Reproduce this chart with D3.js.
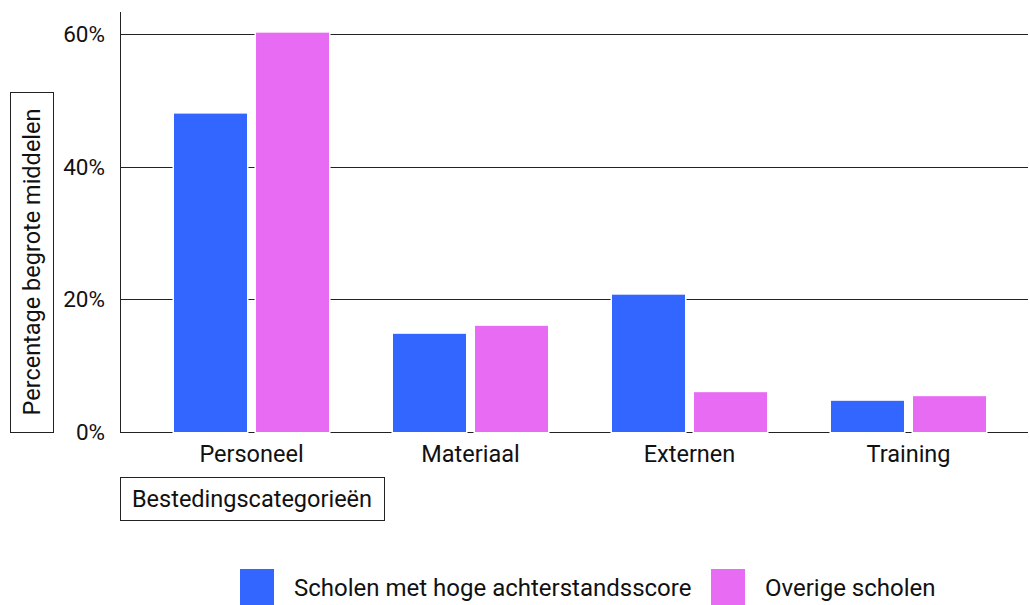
<!DOCTYPE html>
<html>
<head>
<meta charset="utf-8">
<script src="https://cdn.jsdelivr.net/npm/d3@7"></script>
<style>
  body { margin: 0; background: #fff; }
  text { font-family: Roboto, sans-serif; fill: #111; }
</style>
</head>
<body>
<script>
// Data
const categories = ["Personeel", "Materiaal", "Externen", "Training"];
const seriesNames = ["Scholen met hoge achterstandsscore", "Overige scholen"];
const highScore = [48, 14.8, 20.7, 4.7];
const otherSchools = [60.2, 16.0, 6.0, 5.4];
const yTicks = [0, 20, 40, 60];

const colors = ["#3366ff", "#e76cf3"];
const width = 1030, height = 605;

const svg = d3.select("body").append("svg")
    .attr("width", width)
    .attr("height", height);

const x = d3.scaleBand().domain(categories).range([142, 1018]);
const xs = d3.scaleBand().domain(seriesNames).range([0, x.bandwidth()]).paddingInner(0.11).paddingOuter(0.39);
const y = d3.scaleLinear().domain([0, 60]).range([432, 34]);

// gridlines
svg.append("g")
    .selectAll("line")
    .data(yTicks)
    .join("line")
    .attr("x1", 120).attr("x2", 1028)
    .attr("y1", d => Math.round(y(d)) + 0.5).attr("y2", d => Math.round(y(d)) + 0.5)
    .attr("stroke", "#222").attr("stroke-width", 1);

// y axis line
svg.append("line")
    .attr("x1", 120.5).attr("x2", 120.5)
    .attr("y1", 12).attr("y2", 432)
    .attr("stroke", "#222");

// tick labels
svg.append("g")
    .selectAll("text")
    .data(yTicks)
    .join("text")
    .attr("x", 105)
    .attr("y", d => y(d))
    .attr("dy", "0.35em")
    .attr("text-anchor", "end")
    .attr("font-size", 22.5)
    .text(d => d + "%");

// bars
const rows = categories.map((c, i) => ({ cat: c, vals: [highScore[i], otherSchools[i]] }));
svg.append("g")
    .selectAll("g")
    .data(rows)
    .join("g")
    .attr("transform", d => `translate(${x(d.cat)},0)`)
    .selectAll("rect")
    .data(d => d.vals.map((v, j) => ({ v, s: seriesNames[j], j })))
    .join("rect")
    .attr("x", d => xs(d.s))
    .attr("width", xs.bandwidth())
    .attr("y", d => y(d.v))
    .attr("height", d => y(0) - y(d.v))
    .attr("fill", d => colors[d.j])
    .attr("stroke", "#fff")
    .attr("stroke-width", 3)
    .attr("paint-order", "stroke");

// x labels
svg.append("g")
    .selectAll("text")
    .data(categories)
    .join("text")
    .attr("x", d => x(d) + x.bandwidth() / 2)
    .attr("y", 462)
    .attr("text-anchor", "middle")
    .attr("font-size", 23.5)
    .text(d => d);

// y title box
svg.append("rect")
    .attr("x", 10.5).attr("y", 92.5).attr("width", 43).attr("height", 340)
    .attr("fill", "none").attr("stroke", "#222");
svg.append("text")
    .attr("transform", "translate(40,262) rotate(-90)")
    .attr("text-anchor", "middle")
    .attr("font-size", 23.5)
    .text("Percentage begrote middelen");

// x title box
svg.append("rect")
    .attr("x", 120.5).attr("y", 477.5).attr("width", 264).attr("height", 43)
    .attr("fill", "none").attr("stroke", "#222");
svg.append("text")
    .attr("x", 252).attr("y", 507)
    .attr("text-anchor", "middle")
    .attr("font-size", 23.5)
    .text("Bestedingscategorieën");

// legend
const legendX = [240, 711];
const lg = svg.append("g")
    .selectAll("g")
    .data(seriesNames)
    .join("g")
    .attr("transform", (d, i) => `translate(${legendX[i]},569)`);
lg.append("rect").attr("width", 34).attr("height", 37).attr("fill", (d, i) => colors[i]);
lg.append("text").attr("x", 54).attr("y", 27).attr("font-size", 24).text(d => d);
</script>
</body>
</html>
